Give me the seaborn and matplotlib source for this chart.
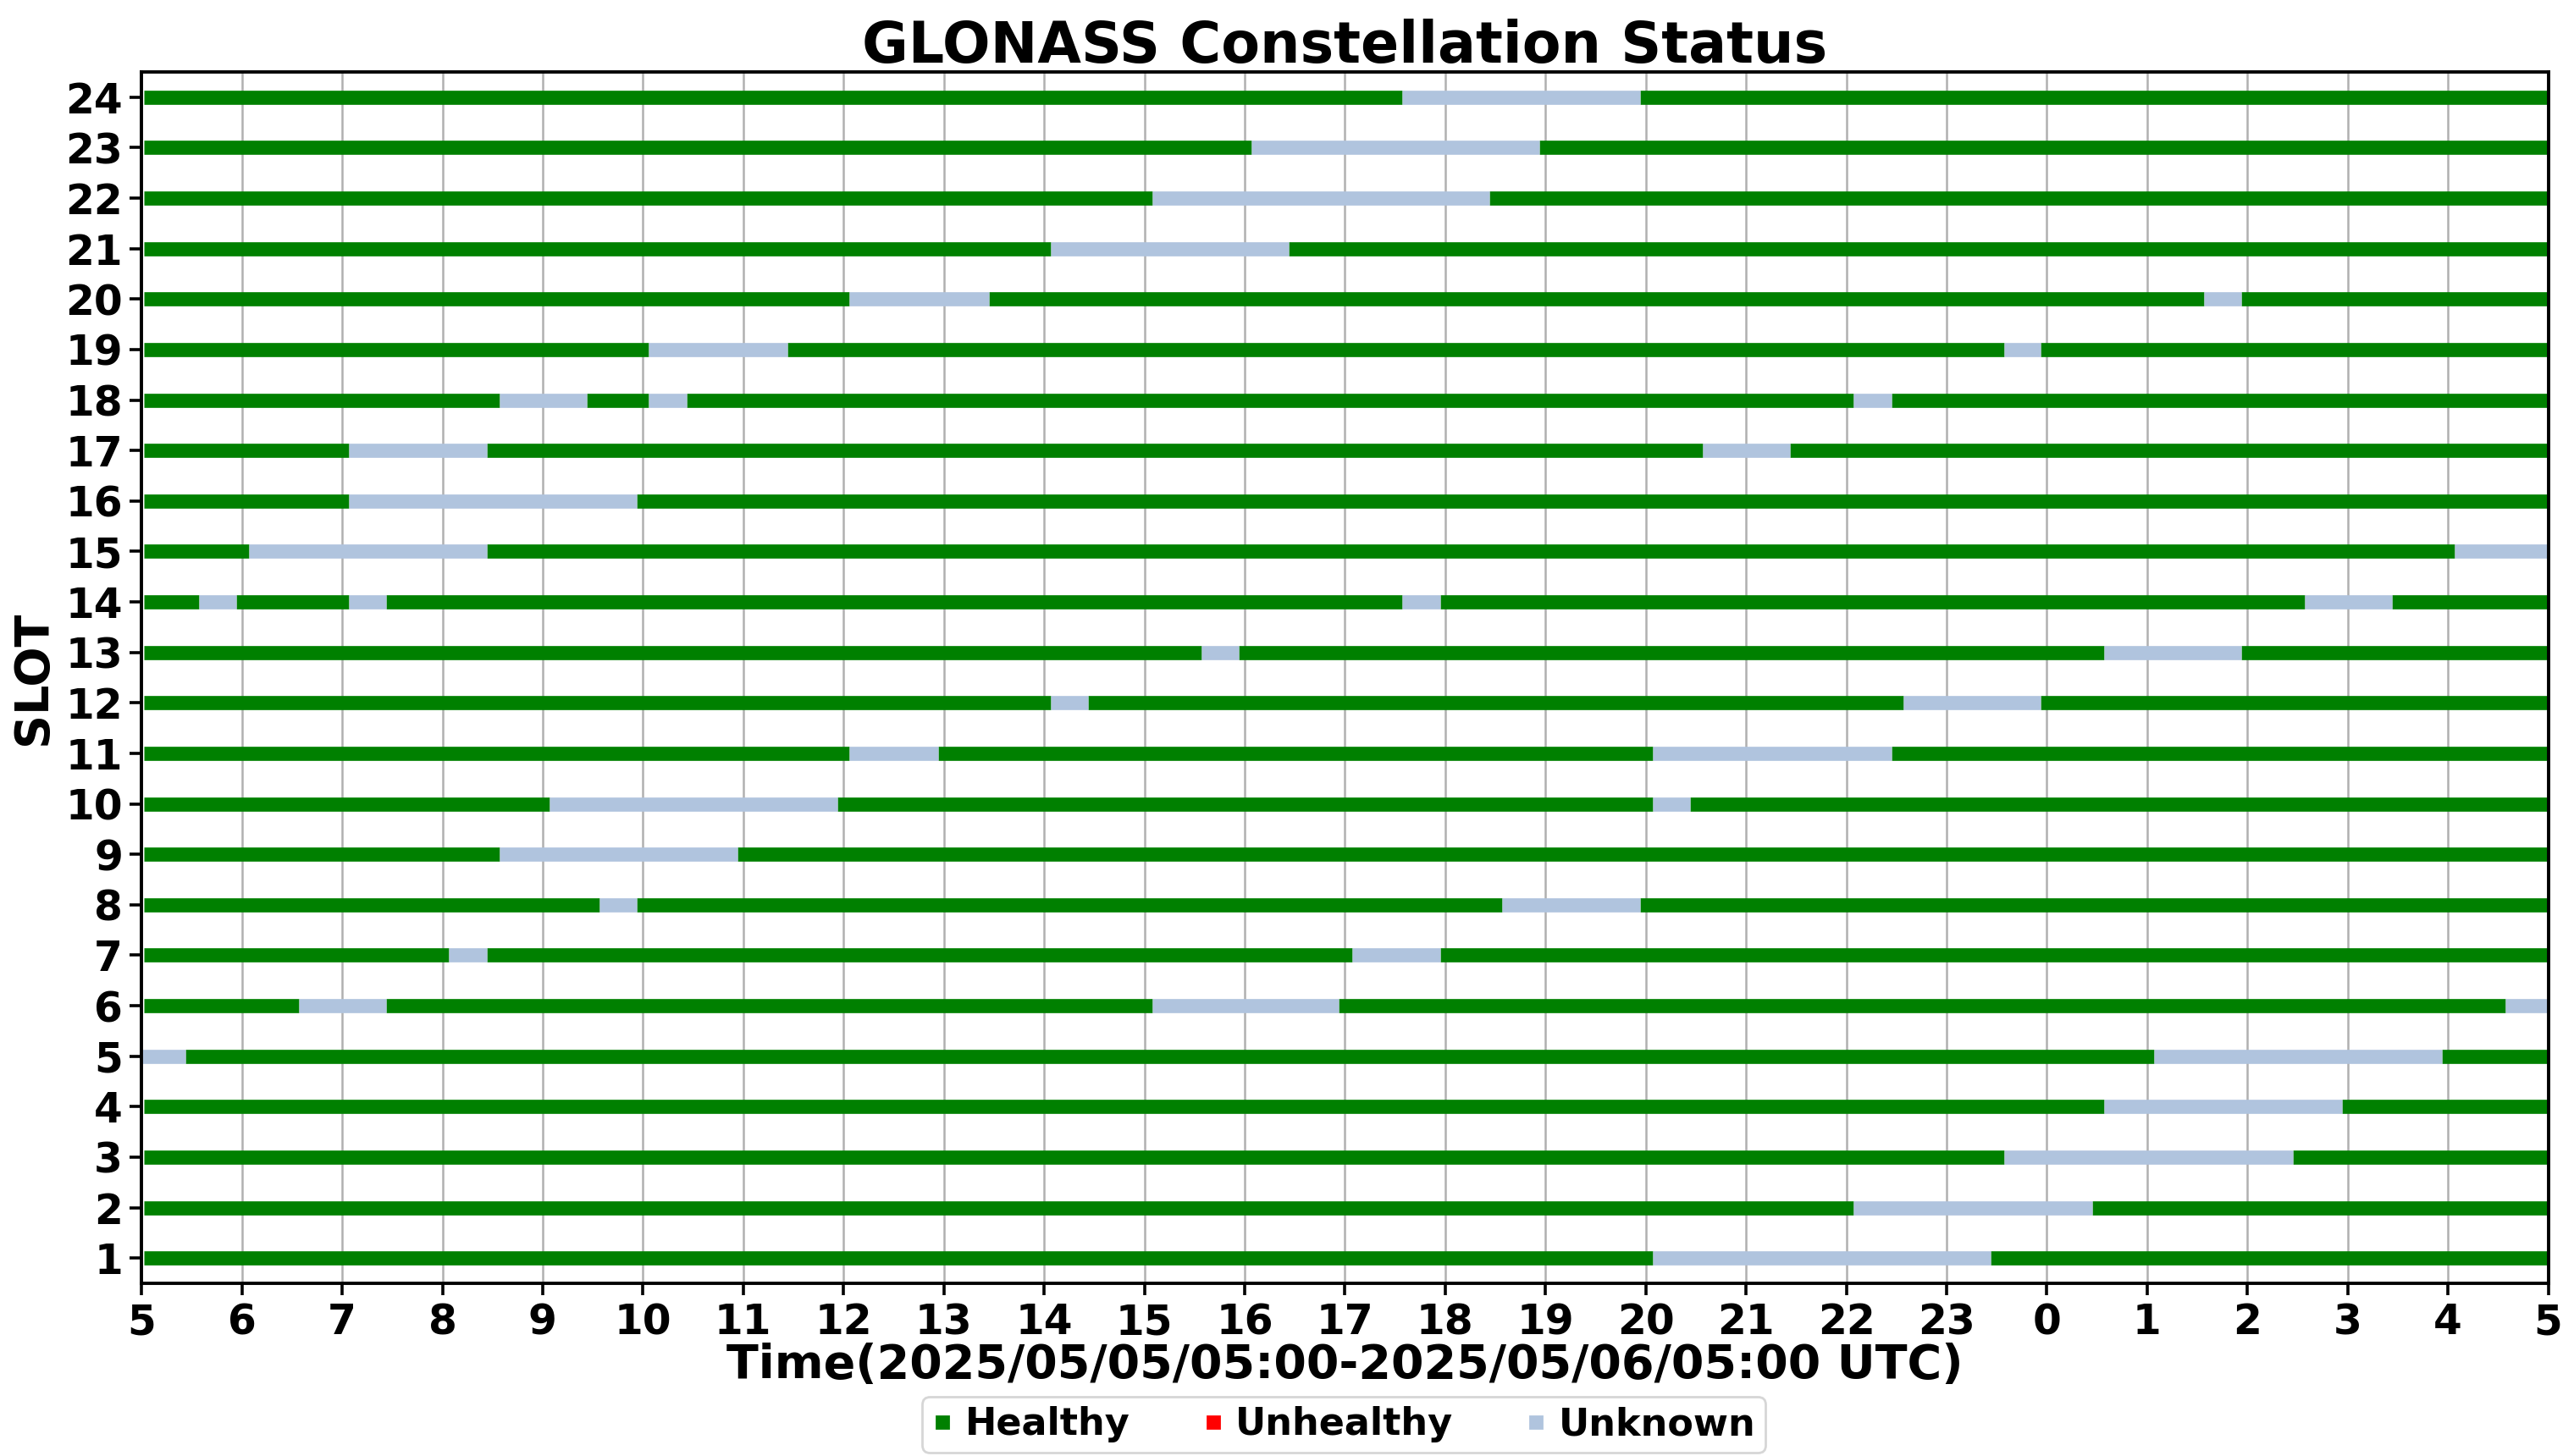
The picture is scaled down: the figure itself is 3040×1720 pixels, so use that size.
import pandas as pd
import matplotlib.pyplot as plt
from matplotlib.lines import Line2D
import seaborn as sns

# ---------------------------------------------------------
# Data (hours, continuous from 05:00 to 05:00 next day)
# ---------------------------------------------------------

slots = list(range(1, 25))
day_start = 5.02
day_end = 29.0

# "Unknown" windows per slot; the rest of the day is "Healthy"
unknown_windows = {
    1: [(20.07, 23.44)],
    2: [(22.07, 24.45)],
    3: [(23.57, 26.45)],
    4: [(24.57, 26.94)],
    5: [(5.0, 5.44), (25.07, 27.94)],
    6: [(6.57, 7.44), (15.08, 16.94), (28.57, 29.0)],
    7: [(8.06, 8.44), (17.07, 17.95)],
    8: [(9.57, 9.94), (18.57, 19.94)],
    9: [(8.57, 10.94)],
    10: [(9.07, 11.94), (20.07, 20.44)],
    11: [(12.06, 12.94), (20.07, 22.45)],
    12: [(14.07, 14.44), (22.57, 23.94)],
    13: [(15.57, 15.94), (24.57, 25.94)],
    14: [(5.57, 5.94), (7.07, 7.44), (17.57, 17.95), (26.57, 27.44)],
    15: [(6.07, 8.44), (28.07, 29.0)],
    16: [(7.07, 9.94)],
    17: [(7.07, 8.44), (20.57, 21.44)],
    18: [(8.57, 9.44), (10.06, 10.44), (22.07, 22.45)],
    19: [(10.06, 11.44), (23.57, 23.94)],
    20: [(12.06, 13.45), (25.57, 25.94)],
    21: [(14.07, 16.44)],
    22: [(15.08, 18.44)],
    23: [(16.07, 18.94)],
    24: [(17.57, 19.94)],
}

hour_ticks = list(range(5, 30))
hour_labels = [str(h % 24) for h in hour_ticks]

status_colors = {"Healthy": "green", "Unhealthy": "red", "Unknown": "lightsteelblue"}

# ---------------------------------------------------------
# Build segments table (2 points per segment)
# ---------------------------------------------------------

rows = []
seg_id = 0
for s in slots:
    wins = unknown_windows[s]
    t = min(day_start, wins[0][0])
    for a, b in wins:
        if a > t:
            rows += [(seg_id, s, t, "Healthy"), (seg_id, s, a, "Healthy")]
            seg_id += 1
        rows += [(seg_id, s, a, "Unknown"), (seg_id, s, b, "Unknown")]
        seg_id += 1
        t = b
    if t < day_end:
        rows += [(seg_id, s, t, "Healthy"), (seg_id, s, day_end, "Healthy")]
        seg_id += 1

df = pd.DataFrame(rows, columns=["seg", "slot", "t", "status"])

# ---------------------------------------------------------
# Plot
# ---------------------------------------------------------

sns.set_style("white")
plt.rcParams["font.family"] = ["DejaVu Sans"]
plt.rcParams["font.weight"] = "bold"
plt.rcParams["text.color"] = "black"
plt.rcParams["axes.labelcolor"] = "black"
plt.rcParams["xtick.color"] = "black"
plt.rcParams["ytick.color"] = "black"

fig, ax = plt.subplots(figsize=(15.2, 8.6), dpi=200)
fig.subplots_adjust(left=0.055, right=0.990, top=0.9506, bottom=0.1186)

sns.lineplot(
    data=df,
    x="t",
    y="slot",
    hue="status",
    units="seg",
    estimator=None,
    sort=False,
    palette=status_colors,
    linewidth=6,
    solid_capstyle="butt",
    legend=False,
    ax=ax,
)

ax.set_xlim(5, 29)
ax.set_ylim(0.5, 24.5)
ax.set_xticks(hour_ticks)
ax.set_xticklabels(hour_labels, fontsize=17.5, fontweight="bold", color="black")
ax.set_yticks(slots)
ax.set_yticklabels([str(s) for s in slots], fontsize=17.5, fontweight="bold", color="black")
ax.tick_params(axis="both", length=5, width=1.3, color="black", left=True, bottom=True, pad=3)
ax.grid(True, axis="x", color="#b0b0b0", linewidth=0.9)
ax.grid(False, axis="y")
ax.set_axisbelow(True)
for sp in ax.spines.values():
    sp.set_color("black")
    sp.set_linewidth(1.4)

ax.set_title("GLONASS Constellation Status", fontsize=24, fontweight="bold", pad=4, color="black")
ax.set_xlabel("Time(2025/05/05/05:00-2025/05/06/05:00 UTC)", fontsize=20, fontweight="bold", labelpad=0)
ax.set_ylabel("SLOT", fontsize=20, fontweight="bold", labelpad=4)

handles = [
    Line2D([], [], marker="s", linestyle="none", color=c, markersize=5, label=k)
    for k, c in status_colors.items()
]
fig.legend(
    handles=handles,
    loc="lower center",
    bbox_to_anchor=(0.522, 0.0),
    ncol=3,
    prop={"size": 16, "weight": "bold"},
    handlelength=0.6,
    handletextpad=0.3,
    columnspacing=1.9,
    borderpad=0.25,
    borderaxespad=0.1,
    frameon=True,
)

plt.savefig("out.png", dpi=200)
